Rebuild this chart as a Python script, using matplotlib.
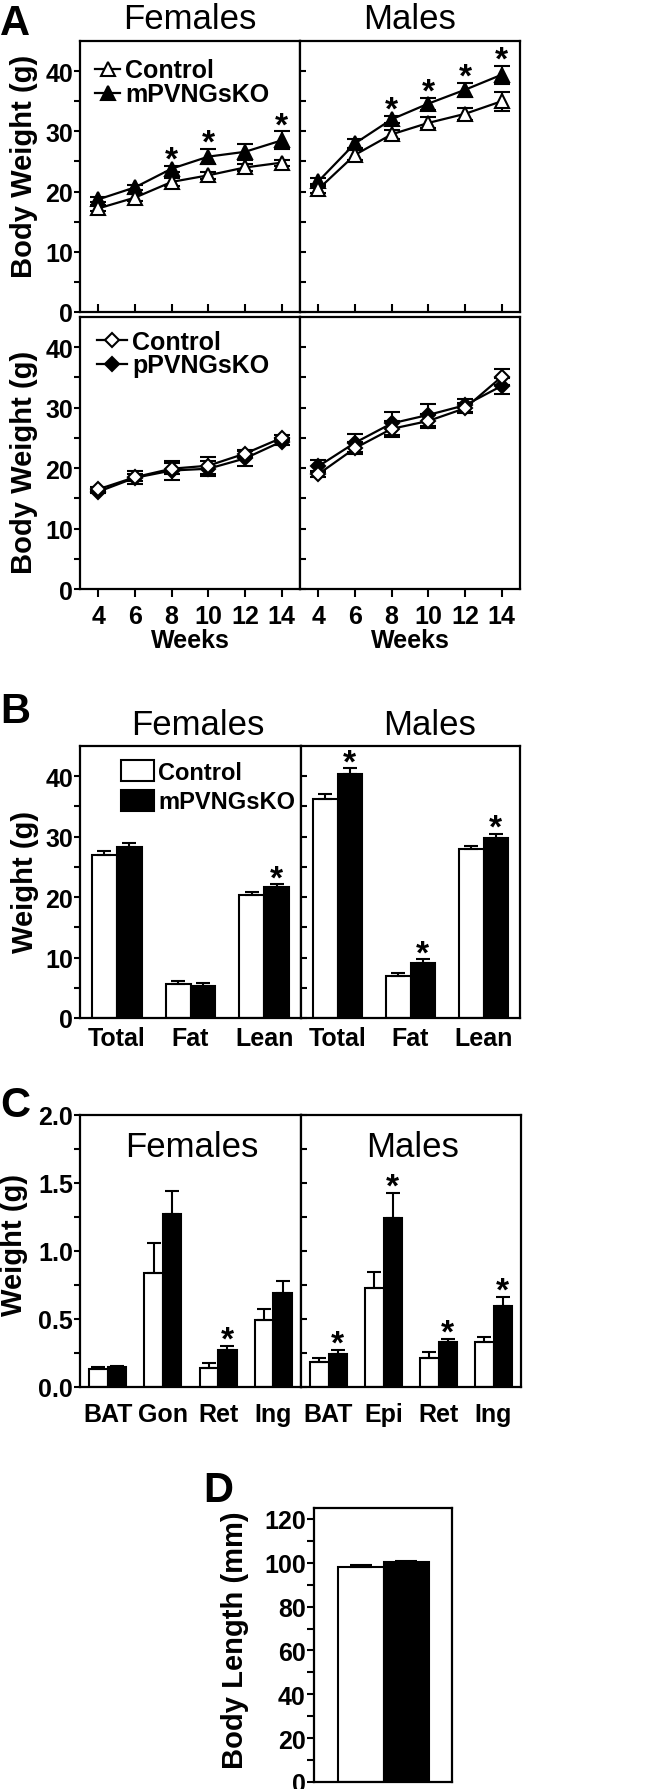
import numpy as np
import matplotlib
matplotlib.use('Agg')
import matplotlib.pyplot as plt
from matplotlib.lines import Line2D
from matplotlib.patches import Patch

plt.rcParams['font.family'] = ['Liberation Sans', 'DejaVu Sans']
plt.rcParams['font.weight'] = 'bold'
plt.rcParams['axes.labelweight'] = 'bold'
plt.rcParams['axes.linewidth'] = 1.6

# ---- data ----
weeks = [4, 6, 8, 10, 12, 14]

# A, top row: Control vs mPVNGsKO
f_ctrl_m = [17.2, 19.0, 21.6, 22.7, 24.0, 24.8]
f_ctrl_m_err = [0.5, 0.6, 0.6, 0.6, 0.6, 0.5]
f_ko_m = [18.7, 20.7, 23.8, 25.8, 26.6, 28.5]
f_ko_m_err = [0.4, 0.4, 0.5, 1.3, 1.3, 1.5]
f_sig_m = [8, 10, 14]
m_ctrl_m = [20.4, 26.1, 29.5, 31.4, 32.9, 35.0]
m_ctrl_m_err = [0.6, 0.8, 0.8, 0.9, 1.0, 1.6]
m_ko_m = [21.7, 28.0, 32.0, 34.6, 36.9, 39.4]
m_ko_m_err = [0.5, 0.7, 0.6, 1.0, 1.2, 1.5]
m_sig_m = [8, 10, 12, 14]

# A, bottom row: Control vs pPVNGsKO
f_ctrl_p = [16.5, 18.5, 19.9, 20.4, 22.4, 25.0]
f_ctrl_p_err = [0.3, 0.6, 0.9, 1.4, 0.6, 0.4]
f_ko_p = [16.1, 18.4, 19.6, 19.9, 21.6, 24.4]
f_ko_p_err = [0.3, 1.1, 1.5, 1.2, 1.3, 0.5]
m_ctrl_p = [19.0, 23.3, 26.5, 27.8, 29.9, 35.1]
m_ctrl_p_err = [0.5, 1.0, 1.3, 1.2, 0.8, 1.3]
m_ko_p = [20.3, 24.2, 27.4, 28.8, 30.4, 33.6]
m_ko_p_err = [1.0, 1.5, 1.9, 1.8, 1.1, 1.3]

# B: body composition
comp_labels = ['Total', 'Fat', 'Lean']
f_comp_ctrl = [26.9, 5.6, 20.4]
f_comp_ctrl_err = [0.8, 0.6, 0.4]
f_comp_ko = [28.3, 5.3, 21.7]
f_comp_ko_err = [0.6, 0.5, 0.4]
f_comp_sig = [False, False, True]
m_comp_ctrl = [36.2, 6.9, 28.0]
m_comp_ctrl_err = [0.9, 0.6, 0.5]
m_comp_ko = [40.3, 9.1, 29.8]
m_comp_ko_err = [1.0, 0.6, 0.7]
m_comp_sig = [True, True, True]

# C: fat depots
f_fat_labels = ['BAT', 'Gon', 'Ret', 'Ing']
m_fat_labels = ['BAT', 'Epi', 'Ret', 'Ing']
f_fat_ctrl = [0.13, 0.84, 0.14, 0.49]
f_fat_ctrl_err = [0.015, 0.22, 0.035, 0.08]
f_fat_ko = [0.145, 1.27, 0.27, 0.69]
f_fat_ko_err = [0.01, 0.17, 0.03, 0.09]
f_fat_sig = [False, False, True, False]
m_fat_ctrl = [0.185, 0.725, 0.215, 0.33]
m_fat_ctrl_err = [0.025, 0.12, 0.04, 0.035]
m_fat_ko = [0.24, 1.245, 0.33, 0.595]
m_fat_ko_err = [0.03, 0.18, 0.025, 0.07]
m_fat_sig = [True, True, True, True]

# D: body length
length_vals = [98.3, 100.2]
length_err = [0.5, 0.8]

W, H = 648, 1790
fig = plt.figure(figsize=(W / 100, H / 100), dpi=100)


def px_axes(x0, y0, x1, y1):
    return fig.add_axes([x0 / W, 1 - y1 / H, (x1 - x0) / W, (y1 - y0) / H])


def ftext(x, y, s, **kw):
    fig.text(x / W, 1 - y / H, s, **kw)


def star(ax, x, y, dy=-2):
    ax.annotate('*', (x, y), xytext=(0, dy), textcoords='offset points',
                ha='center', va='baseline', fontsize=24)


def line_panel(ax, ctrl, ctrl_err, ko, ko_err, marker, ms, sig, female, bottom):
    kw = dict(color='black', lw=1.6, elinewidth=1.5, capsize=6, capthick=1.5,
              marker=marker, ms=ms, mec='black', mew=1.5)
    ax.errorbar(weeks, ctrl, yerr=ctrl_err, mfc='white', zorder=4, **kw)
    ax.errorbar(weeks, ko, yerr=ko_err, mfc='black', zorder=3, **kw)
    for w in sig:
        i = weeks.index(w)
        star(ax, w, ko[i] + ko_err[i])
    ax.set_xlim(3, 15)
    ax.set_ylim(0, 45)
    ax.set_xticks(weeks)
    ax.set_yticks(np.arange(0, 41, 10))
    ax.set_yticks(np.arange(0, 45, 5), minor=True)
    ax.tick_params(axis='y', which='both', length=4, width=1.5, labelsize=18,
                   direction='out' if female else 'in', labelleft=female, pad=1)
    ax.tick_params(axis='x', length=6, width=1.5, labelsize=18, pad=5,
                   direction='out' if bottom else 'in', labelbottom=bottom)
    if bottom:
        ax.set_xlabel('Weeks', fontsize=18, labelpad=0)


def bar_panel(ax, labels, ctrl, ctrl_err, ko, ko_err, sig, female, ymax, pad):
    x = np.arange(len(labels))
    w = 0.335
    ax.bar(x - w / 2, ctrl, w, color='white', edgecolor='black', lw=1.5)
    ax.bar(x + w / 2, ko, w, color='black', edgecolor='black', lw=1.5)
    zeros = np.zeros(len(labels))
    ax.errorbar(x - w / 2, ctrl, yerr=[zeros, ctrl_err], fmt='none', ecolor='black',
                elinewidth=1.5, capsize=5, capthick=1.5)
    ax.errorbar(x + w / 2, ko, yerr=[zeros, ko_err], fmt='none', ecolor='black',
                elinewidth=1.5, capsize=5, capthick=1.5)
    for i, s in enumerate(sig):
        if s:
            star(ax, x[i] + w / 2, ko[i] + ko_err[i])
    ax.set_xlim(-0.5, len(labels) - 0.5)
    ax.set_ylim(0, ymax)
    ax.set_xticks(x)
    ax.set_xticklabels(labels)
    ax.tick_params(axis='x', length=0, labelsize=18, pad=pad)
    ax.tick_params(axis='y', which='both', length=4, width=1.5, labelsize=18,
                   direction='out' if female else 'in', labelleft=female, pad=1)


# ---- panel A ----
axA1f = px_axes(80, 42, 300, 313)
axA1m = px_axes(300, 42, 520, 313)
axA2f = px_axes(80, 318, 300, 590)
axA2m = px_axes(300, 318, 520, 590)

line_panel(axA1f, f_ctrl_m, f_ctrl_m_err, f_ko_m, f_ko_m_err, '^', 10, f_sig_m, True, False)
line_panel(axA1m, m_ctrl_m, m_ctrl_m_err, m_ko_m, m_ko_m_err, '^', 10, m_sig_m, False, False)
line_panel(axA2f, f_ctrl_p, f_ctrl_p_err, f_ko_p, f_ko_p_err, 'D', 7, [], True, True)
line_panel(axA2m, m_ctrl_p, m_ctrl_p_err, m_ko_p, m_ko_p_err, 'D', 7, [], False, True)

lkw = dict(color='black', lw=1.6, mec='black', mew=1.5)
axA1f.legend([Line2D([], [], marker='^', ms=10, mfc='white', **lkw),
              Line2D([], [], marker='^', ms=10, mfc='black', **lkw)],
             ['Control', 'mPVNGsKO'], loc='upper left', bbox_to_anchor=(-0.01, 1.0),
             frameon=False, fontsize=18, handlelength=1.0, handletextpad=0.2,
             labelspacing=0.0, borderaxespad=0.3)
axA2f.legend([Line2D([], [], marker='D', ms=7, mfc='white', **lkw),
              Line2D([], [], marker='D', ms=7, mfc='black', **lkw)],
             ['Control', 'pPVNGsKO'], loc='upper left', bbox_to_anchor=(0.02, 1.0),
             frameon=False, fontsize=18, handlelength=1.2, handletextpad=0.2,
             labelspacing=0.0, borderaxespad=0.1)

# ---- panel B ----
axBf = px_axes(80, 747, 301, 1019)
axBm = px_axes(301, 747, 520, 1019)
for ax, c, ce, k, ke, s, fem in [
        (axBf, f_comp_ctrl, f_comp_ctrl_err, f_comp_ko, f_comp_ko_err, f_comp_sig, True),
        (axBm, m_comp_ctrl, m_comp_ctrl_err, m_comp_ko, m_comp_ko_err, m_comp_sig, False)]:
    bar_panel(ax, comp_labels, c, ce, k, ke, s, fem, 45, 6)
    ax.set_yticks(np.arange(0, 41, 10))
    ax.set_yticks(np.arange(0, 45, 5), minor=True)
axBf.legend([Patch(facecolor='white', edgecolor='black', lw=1.5),
             Patch(facecolor='black', edgecolor='black', lw=1.5)],
            ['Control', 'mPVNGsKO'], loc='upper left', bbox_to_anchor=(0.12, 1.0),
            frameon=False, fontsize=17, handlelength=1.4, handleheight=1.0,
            handletextpad=0.2, labelspacing=0.25, borderaxespad=0.2)

# ---- panel C ----
axCf = px_axes(80, 1116, 301, 1388)
axCm = px_axes(301, 1116, 521, 1388)
for ax, lab, c, ce, k, ke, s, fem in [
        (axCf, f_fat_labels, f_fat_ctrl, f_fat_ctrl_err, f_fat_ko, f_fat_ko_err, f_fat_sig, True),
        (axCm, m_fat_labels, m_fat_ctrl, m_fat_ctrl_err, m_fat_ko, m_fat_ko_err, m_fat_sig, False)]:
    bar_panel(ax, lab, c, ce, k, ke, s, fem, 2.0, 11)
    ax.set_yticks(np.arange(0, 2.01, 0.5))
    ax.set_yticks(np.arange(0, 2.01, 0.25), minor=True)
    ax.yaxis.set_major_formatter(matplotlib.ticker.FormatStrFormatter('%.1f'))

# ---- panel D ----
axD = px_axes(314, 1509, 452, 1783)
xd = np.arange(len(length_vals))
axD.bar(xd, length_vals, 1.0, color=['white', 'black'], edgecolor='black', lw=1.5)
axD.errorbar(xd, length_vals, yerr=[np.zeros(len(xd)), length_err], fmt='none',
             ecolor='black', elinewidth=1.5, capsize=8, capthick=1.5)
axD.set_xlim(-1.03, 2.0)
axD.set_ylim(0, 125)
axD.set_xticks([])
axD.set_yticks(np.arange(0, 121, 20))
axD.set_yticks(np.arange(0, 125, 10), minor=True)
axD.tick_params(axis='y', which='both', length=5, width=1.5, labelsize=18, pad=1)

# ---- figure text ----
tkw = dict(fontsize=25, fontweight='normal', ha='center', va='baseline')
ftext(190, 29, 'Females', **tkw)
ftext(410, 29, 'Males', **tkw)
ftext(198, 735, 'Females', **tkw)
ftext(430, 735, 'Males', **tkw)
ftext(192, 1157, 'Females', **tkw)
ftext(413, 1157, 'Males', **tkw)

pkw = dict(fontsize=30, ha='left', va='baseline')
ftext(0, 35, 'A', **pkw)
ftext(0, 723, 'B', **pkw)
ftext(0, 1117, 'C', **pkw)
ftext(203, 1502, 'D', **pkw)

ykw = dict(fontsize=21, rotation=90, ha='center', va='center')
ftext(24, 166, 'Body Weight (g)', **ykw)
ftext(24, 462, 'Body Weight (g)', **ykw)
ftext(25, 882, 'Weight (g)', **ykw)
ftext(14, 1245, 'Weight (g)', **ykw)
ftext(235, 1640, 'Body Length (mm)', **ykw)

fig.savefig('out.png', dpi=100)
